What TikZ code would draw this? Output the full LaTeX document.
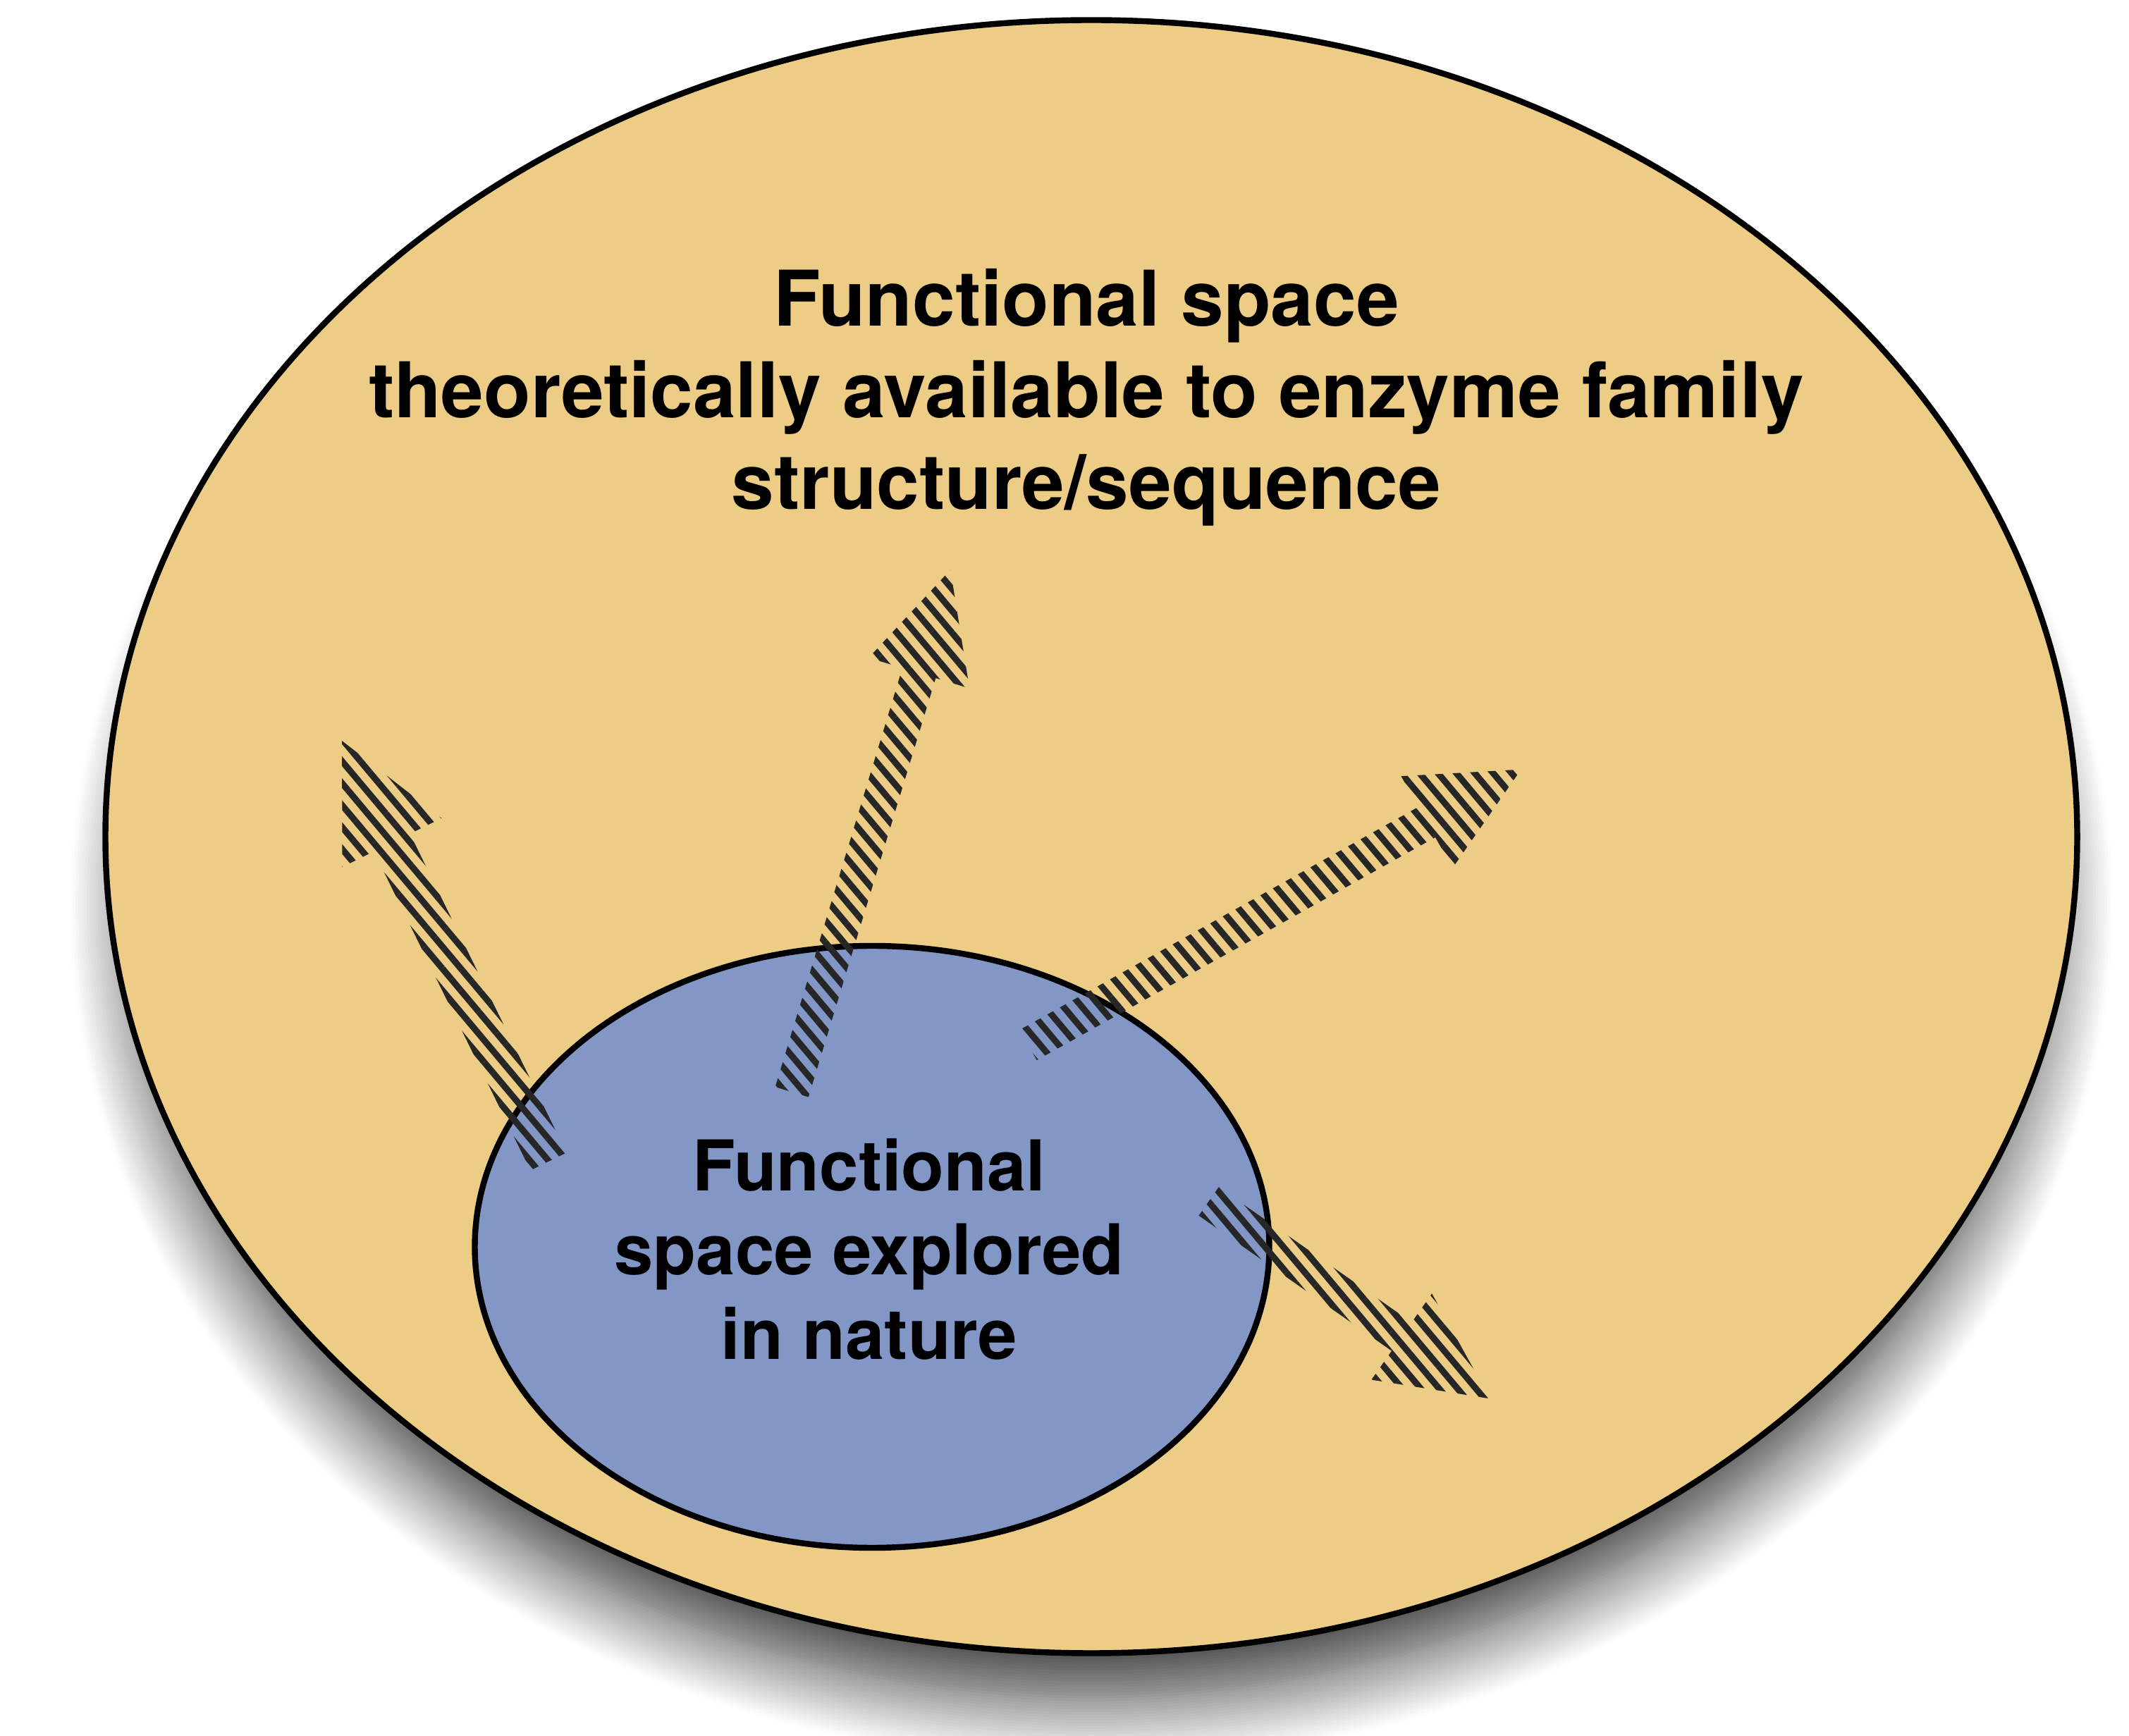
\documentclass[tikz,border=0pt]{standalone}
\usepackage{fontspec}
\setmainfont{TeX Gyre Heros}
\usetikzlibrary{shapes.geometric, shapes.arrows, shadows.blur, patterns.meta, calc}
\definecolor{sand}{RGB}{237,204,134}
\definecolor{lavender}{RGB}{131,151,198}
\tikzset{
  space/.style={ellipse, draw=black, line width=2.4pt, inner sep=0pt},
  spacetext/.style={font=\bfseries\fontsize{31}{37}\selectfont, align=center},
  explore/.style={single arrow, draw=none, inner xsep=0pt, inner ysep=0.24cm,
    single arrow head extend=0.5cm, single arrow tip angle=52,
    pattern={Lines[angle=130,distance=0.2cm,line width=0.09cm]}, pattern color=black!85}
}

\begin{document}
\begin{tikzpicture}
	\useasboundingbox (0,0) rectangle (30.20,24.62);
	\node[space, fill=sand, minimum width=27.97cm, minimum height=23.17cm,
	  blur shadow={shadow xshift=0cm, shadow yshift=-1.0cm, shadow scale=0.97, shadow blur radius=0.95cm, shadow blur steps=24, shadow opacity=80}] (full) at (15.48,12.75) {};
	\node[spacetext] (fulltext) at (15.41,18.98) {Functional space\\theoretically available to enzyme family\\structure/sequence};
	\node[space, fill=lavender, minimum width=11.27cm, minimum height=8.54cm] (nature) at (12.37,6.93) {};
	\node[spacetext, font=\bfseries\fontsize{28.3}{34}\selectfont] (naturetext) at (12.33,6.90) {Functional\\space explored\\in nature};
	\coordinate (s1) at (7.80,8.10);   \coordinate (t1) at (4.87,14.07);
	\coordinate (s2) at (11.23,9.12);  \coordinate (t2) at (13.48,16.53);
	\coordinate (s3) at (14.58,9.79);  \coordinate (t3) at (21.57,13.70);
	\coordinate (s4) at (17.14,7.58);  \coordinate (t4) at (21.13,4.78);
	\foreach \i in {1,...,4}
	  \path let \p1=($(t\i)-(s\i)$), \n1={atan2(\y1,\x1)}, \n2={veclen(\x1,\y1)} in
	    node[explore, rotate=\n1, minimum height=\n2, anchor=tail] (arr\i) at (s\i) {};
\end{tikzpicture}
\end{document}
